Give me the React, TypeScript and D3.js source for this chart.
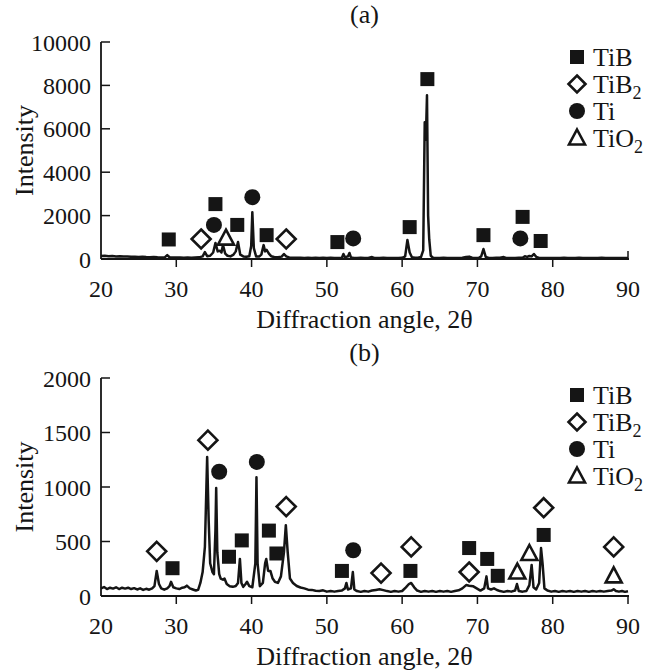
import React from "react";
import { scaleLinear, line } from "d3";

// XRD patterns: [2theta, intensity]
const patternA: [number, number][] = [
  [20, 140], [20.5, 150], [21, 128], [21.5, 142], [22, 120], [22.5, 128], [23, 110], [23.5, 118],
  [24, 100], [24.5, 108], [25, 95], [25.5, 102], [26, 88], [26.5, 84], [27, 96], [27.5, 80],
  [28, 74], [28.5, 84], [28.8, 180], [29.1, 80], [29.5, 70], [30, 64], [30.5, 72], [31, 60],
  [31.5, 66], [32, 60], [32.5, 70], [33, 76], [33.5, 120], [33.8, 320], [34.1, 130], [34.5, 150],
  [34.9, 300], [35.2, 740], [35.5, 350], [35.8, 380], [36.0, 300], [36.2, 640], [36.5, 250],
  [36.8, 150], [37.2, 120], [37.6, 200], [37.9, 350], [38.2, 780], [38.5, 200], [38.9, 120],
  [39.3, 100], [39.7, 130], [39.95, 600], [40.1, 2160], [40.3, 500], [40.6, 120], [41.0, 110],
  [41.3, 200], [41.6, 640], [41.8, 350], [42.0, 420], [42.3, 250], [42.6, 130], [43.0, 90],
  [43.5, 80], [44.0, 110], [44.3, 230], [44.6, 120], [45, 70], [45.5, 60], [46, 55], [46.5, 62],
  [47, 50], [47.5, 56], [48, 50], [48.5, 56], [49, 45], [49.5, 52], [50, 45], [50.5, 52], [51, 45],
  [51.5, 50], [52, 60], [52.2, 230], [52.4, 80], [52.8, 120], [53.0, 280], [53.2, 70], [53.6, 50],
  [54, 45], [54.5, 52], [55, 45], [55.5, 50], [56, 90], [56.3, 50], [57, 45], [57.5, 52], [58, 45],
  [58.5, 50], [59, 45], [59.5, 50], [60, 55], [60.4, 120], [60.7, 880], [61.0, 300], [61.3, 80],
  [61.7, 55], [62.1, 60], [62.5, 90], [62.8, 400], [63.0, 6300], [63.15, 5500], [63.3, 7550],
  [63.45, 2000], [63.6, 900], [63.8, 150], [64.1, 60], [64.5, 50], [65, 45], [65.5, 52], [66, 45],
  [66.5, 50], [67, 45], [67.5, 50], [68, 55], [68.5, 90], [68.9, 110], [69.3, 60], [69.7, 50],
  [70.2, 55], [70.5, 120], [70.8, 460], [71.1, 100], [71.5, 50], [72, 45], [72.5, 52], [73, 55],
  [73.5, 90], [73.8, 50], [74.5, 45], [75, 50], [75.5, 55], [76, 60], [76.3, 130], [76.6, 100],
  [76.9, 140], [77.2, 120], [77.5, 230], [77.8, 100], [78.2, 50], [78.8, 45], [79.5, 50], [80, 45],
  [80.5, 50], [81, 45], [81.5, 52], [82, 45], [82.5, 50], [83, 45], [83.5, 60], [84, 45], [84.5, 50],
  [85, 45], [85.5, 50], [86, 45], [86.5, 62], [87, 45], [87.5, 50], [88, 45], [88.5, 50], [89, 45],
  [89.5, 50], [90, 45],
];

const patternB: [number, number][] = [
  [20, 70], [20.4, 82], [20.8, 64], [21.2, 76], [21.6, 68], [22, 80], [22.4, 64], [22.8, 76],
  [23.2, 68], [23.6, 76], [24, 64], [24.4, 72], [24.8, 60], [25.2, 70], [25.6, 56], [26, 66],
  [26.4, 58], [26.8, 70], [27.1, 90], [27.4, 230], [27.7, 110], [28, 70], [28.4, 58], [28.8, 70],
  [29.1, 90], [29.3, 130], [29.6, 80], [30, 70], [30.4, 64], [30.8, 76], [31.1, 80], [31.4, 95],
  [31.8, 70], [32.2, 60], [32.6, 50], [32.9, 56], [33.2, 120], [33.5, 220], [33.8, 450],
  [34.0, 1000], [34.1, 1275], [34.3, 700], [34.5, 300], [34.8, 220], [35.0, 200], [35.2, 600],
  [35.3, 990], [35.45, 400], [35.7, 200], [35.9, 160], [36.2, 150], [36.4, 160], [36.7, 110],
  [37.1, 90], [37.5, 84], [37.9, 92], [38.2, 120], [38.45, 340], [38.65, 120], [38.9, 84],
  [39.2, 110], [39.4, 130], [39.7, 90], [40.1, 80], [40.5, 300], [40.65, 1090], [40.8, 300],
  [41.1, 90], [41.5, 120], [41.8, 300], [41.95, 340], [42.2, 230], [42.5, 230], [42.8, 160],
  [43.1, 130], [43.5, 120], [43.9, 180], [44.3, 400], [44.55, 650], [44.8, 400], [45.1, 160],
  [45.5, 120], [46, 92], [46.5, 78], [47, 70], [47.5, 58], [48, 56], [48.5, 48], [49, 46],
  [49.5, 52], [50, 40], [50.5, 46], [51, 40], [51.5, 46], [52, 50], [52.4, 70], [52.6, 120],
  [52.8, 60], [53.2, 70], [53.45, 220], [53.65, 60], [54, 45], [54.5, 38], [55, 46], [55.5, 40],
  [56, 50], [56.5, 56], [57, 62], [57.5, 54], [58, 45], [58.5, 38], [59, 46], [59.5, 40], [60, 46],
  [60.5, 80], [60.9, 110], [61.2, 120], [61.6, 80], [62, 50], [62.5, 38], [63, 46], [63.5, 40],
  [64, 46], [64.5, 38], [65, 46], [65.5, 40], [66, 46], [66.5, 38], [67, 46], [67.5, 52], [68, 70],
  [68.5, 100], [68.9, 95], [69.4, 90], [69.9, 70], [70.4, 50], [70.9, 70], [71.2, 180], [71.4, 70],
  [71.8, 60], [72.2, 70], [72.6, 55], [73, 45], [73.5, 38], [74, 46], [74.5, 40], [75, 50],
  [75.25, 110], [75.5, 45], [76, 40], [76.5, 46], [76.9, 100], [77.2, 285], [77.45, 80], [77.8, 60],
  [78.2, 120], [78.45, 440], [78.65, 300], [78.9, 70], [79.3, 50], [79.8, 40], [80.3, 46],
  [80.8, 38], [81.3, 46], [81.8, 40], [82.3, 46], [82.8, 38], [83.3, 46], [83.8, 40], [84.3, 46],
  [84.8, 38], [85.3, 46], [85.8, 40], [86.3, 46], [86.8, 40], [87.3, 46], [87.8, 50], [88.1, 62],
  [88.4, 46], [88.8, 40], [89.2, 46], [89.6, 38], [90, 44],
];

// phase markers [2theta, intensity]
const aTiB = [[29, 900], [35.2, 2530], [38.1, 1570], [42.0, 1100], [51.4, 780], [61.0, 1470], [63.35, 8290], [70.8, 1100], [76.0, 1940], [78.4, 830]];
const aTiB2 = [[33.3, 920], [44.6, 920]];
const aTi = [[35.0, 1570], [40.1, 2850], [53.5, 950], [75.7, 950]];
const aTiO2 = [[36.6, 960]];

const bTiB = [[29.5, 255], [37.0, 360], [38.7, 510], [42.3, 600], [43.3, 390], [52.0, 230], [61.1, 230], [68.9, 440], [71.3, 340], [72.7, 185], [78.8, 560]];
const bTiB2 = [[27.4, 410], [34.2, 1430], [44.6, 820], [57.2, 210], [61.2, 450], [68.9, 220], [78.8, 810], [88.1, 450]];
const bTi = [[35.7, 1140], [40.7, 1230], [53.5, 420]];
const bTiO2 = [[75.3, 220], [76.9, 390], [88.1, 185]];

const xTicks = [20, 30, 40, 50, 60, 70, 80, 90];
const aYTicks = [0, 2000, 4000, 6000, 8000, 10000];
const bYTicks = [0, 500, 1000, 1500, 2000];
const legendNames = ["TiB", "TiB2", "Ti", "TiO2"];

const FONT = "'Liberation Serif', 'Times New Roman', serif";
const INK = "#151515";

function Marker({ kind, x, y, big }: { kind: string; x: number; y: number; big?: boolean }) {
  if (kind === "TiB") {
    const s = 14;
    return <rect x={x - s / 2} y={y - s / 2} width={s} height={s} fill={INK} />;
  }
  if (kind === "TiB2") {
    const r = big ? 9.5 : 8.5;
    return (
      <path
        d={`M${x},${y - r}L${x + r},${y}L${x},${y + r}L${x - r},${y}Z`}
        fill="white"
        stroke={INK}
        strokeWidth={2.6}
      />
    );
  }
  if (kind === "Ti") {
    return <circle cx={x} cy={y} r={8} fill={INK} />;
  }
  return (
    <path
      d={`M${x},${y - 8.5}L${x + 8},${y + 6.5}L${x - 8},${y + 6.5}Z`}
      fill="white"
      stroke={INK}
      strokeWidth={2.6}
      strokeLinejoin="miter"
    />
  );
}

function Label({ name, x, y }: { name: string; x: number; y: number }) {
  const sub = name.endsWith("2");
  return (
    <text x={x} y={y} fontSize={26} fontFamily={FONT} fill={INK}>
      {sub ? name.slice(0, -1) : name}
      {sub && (
        <tspan fontSize={18} dy={6}>
          2
        </tspan>
      )}
    </text>
  );
}

function Panel({
  title, titleY, top, bottom, yMax, yTicks, data, markers, legendTop, tick90Up,
}: {
  title: string; titleY: number; top: number; bottom: number; yMax: number; yTicks: number[];
  data: [number, number][]; markers: { kind: string; pts: number[][] }[]; legendTop: number; tick90Up: boolean;
}) {
  const x = scaleLinear().domain([20, 90]).range([101, 628]);
  const y = scaleLinear().domain([0, yMax]).range([bottom, top]);
  const path = line<[number, number]>().x((d) => x(d[0])).y((d) => y(d[1]))(data) || "";
  const midX = (x(20) + x(90)) / 2;
  return (
    <g fontFamily={FONT} fill={INK}>
      <text x={midX} y={titleY} fontSize={26} textAnchor="middle">{title}</text>
      <path d={path} fill="none" stroke={INK} strokeWidth={2.5} strokeLinejoin="round" />
      {/* axes */}
      <line x1={x(20)} x2={x(20)} y1={y(yMax)} y2={bottom} stroke={INK} strokeWidth={1.8} />
      <line x1={x(20)} x2={x(90) + 1} y1={bottom} y2={bottom} stroke={INK} strokeWidth={1.8} />
      {yTicks.map((t) => (
        <g key={t}>
          <line x1={x(20)} x2={x(20) + 9} y1={y(t)} y2={y(t)} stroke={INK} strokeWidth={1.5} />
          <text x={x(20) - 10} y={y(t)} dy="0.36em" fontSize={24} textAnchor="end">{t}</text>
        </g>
      ))}
      {xTicks.map((t) => (
        <g key={t}>
          {t > 20 && (
            <line
              x1={x(t)} x2={x(t)} y1={bottom}
              y2={t === 90 && tick90Up ? bottom - 8 : bottom + 8}
              stroke={INK} strokeWidth={1.5}
            />
          )}
          <text x={x(t)} y={bottom + 38} fontSize={24} textAnchor="middle">{t}</text>
        </g>
      ))}
      <text x={midX} y={bottom + 69} fontSize={26} textAnchor="middle">Diffraction angle, 2θ</text>
      <text
        transform={`translate(${33},${(y(yMax) + bottom) / 2}) rotate(-90)`}
        fontSize={26}
        textAnchor="middle"
      >
        Intensity
      </text>
      {markers.map((m) =>
        m.pts.map((p, i) => <Marker key={m.kind + i} kind={m.kind} x={x(p[0])} y={y(p[1])} big />)
      )}
      {legendNames.map((n, i) => (
        <g key={n}>
          <Marker kind={n} x={577} y={legendTop + i * 27} />
          <Label name={n} x={593} y={legendTop + i * 27 + 9} />
        </g>
      ))}
    </g>
  );
}

export default function App() {
  return (
    <svg
      width={658}
      height={672}
      style={{ position: "absolute", left: 0, top: 0, background: "white" }}
    >
      <Panel
        title="(a)" titleY={23} top={42} bottom={259} yMax={10000} yTicks={aYTicks}
        data={patternA}
        markers={[
          { kind: "TiB", pts: aTiB }, { kind: "TiB2", pts: aTiB2 },
          { kind: "Ti", pts: aTi }, { kind: "TiO2", pts: aTiO2 },
        ]}
        legendTop={57} tick90Up
      />
      <Panel
        title="(b)" titleY={361} top={378} bottom={596} yMax={2000} yTicks={bYTicks}
        data={patternB}
        markers={[
          { kind: "TiB", pts: bTiB }, { kind: "TiB2", pts: bTiB2 },
          { kind: "Ti", pts: bTi }, { kind: "TiO2", pts: bTiO2 },
        ]}
        legendTop={395} tick90Up={false}
      />
    </svg>
  );
}
